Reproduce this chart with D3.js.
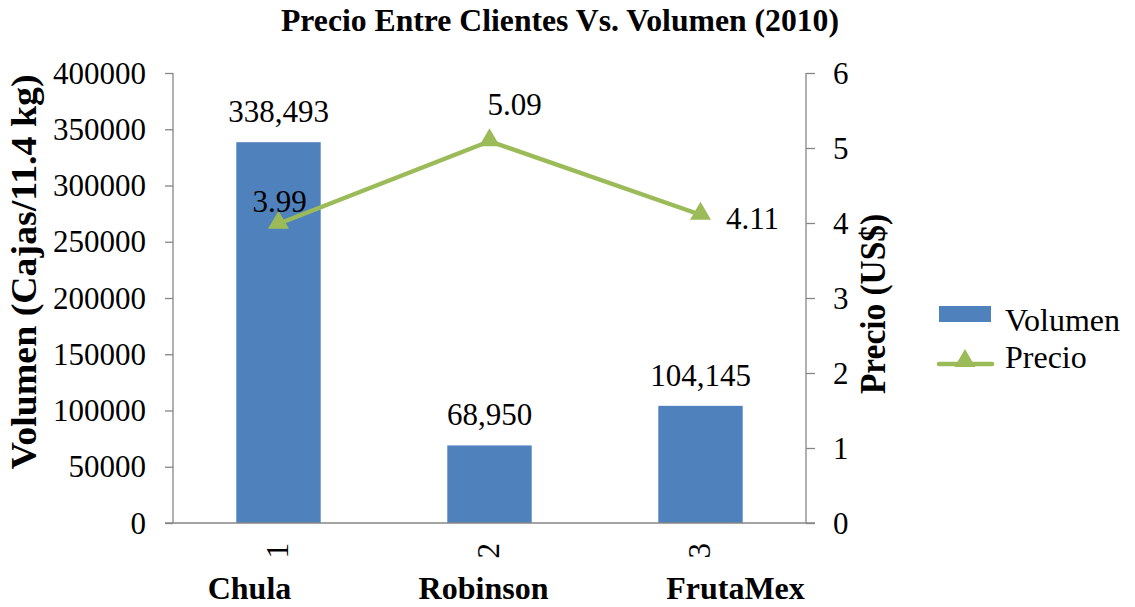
<!DOCTYPE html>
<html>
<head>
<meta charset="utf-8">
<script src="https://cdn.jsdelivr.net/npm/d3@7"></script>
<style>
  html, body { margin: 0; padding: 0; background: #fff; }
  svg { display: block; }
  svg text { font-family: "Liberation Serif", Tinos, "Times New Roman", serif; fill: #000; }
</style>
</head>
<body>
<div id="chart"></div>
<script>
const categories = ["1", "2", "3"];
const clientNames = ["Chula", "Robinson", "FrutaMex"];
const volumen = [338493, 68950, 104145];
const precio = [3.99, 5.09, 4.11];
const volumeTicks = [0, 50000, 100000, 150000, 200000, 250000, 300000, 350000, 400000];
const priceTicks = [0, 1, 2, 3, 4, 5, 6];
const seriesNames = ["Volumen", "Precio"];

const W = 1135, H = 607;
const margin = { left: 173, right: 1135 - 806, top: 73, bottom: 607 - 523 };
const barColor = "#4F81BD", lineColor = "#9BBB59", axisColor = "#868686";
const FS = 31;

const svg = d3.select("#chart").append("svg").attr("width", W).attr("height", H);

const x = d3.scaleBand().domain(categories).range([margin.left, W - margin.right]).paddingInner(0).paddingOuter(0);
const yL = d3.scaleLinear().domain([0, 400000]).range([H - margin.bottom, margin.top]);
const yR = d3.scaleLinear().domain([0, 6]).range([H - margin.bottom, margin.top]);
const barW = x.bandwidth() * 0.4;
const cx = d => x(d) + x.bandwidth() / 2;

// Title
svg.append("text").attr("x", 560).attr("y", 31).attr("text-anchor", "middle")
  .attr("font-size", 31).attr("font-weight", "bold")
  .attr("textLength", 558).attr("lengthAdjust", "spacingAndGlyphs")
  .text("Precio Entre Clientes Vs. Volumen (2010)");

// Bars
svg.selectAll("rect.bar").data(volumen).join("rect").attr("class", "bar")
  .attr("x", (d, i) => cx(categories[i]) - barW / 2)
  .attr("y", d => yL(d)).attr("width", barW).attr("height", d => yL(0) - yL(d))
  .attr("fill", barColor);

// Left axis
const leftAxis = svg.append("g").attr("transform", `translate(${margin.left},0)`)
  .call(d3.axisLeft(yL).tickValues(volumeTicks).tickFormat(d3.format("d")).tickSize(8).tickPadding(19));
leftAxis.attr("font-family", null);
leftAxis.selectAll("line").attr("stroke", axisColor).attr("stroke-width", 1.3);
leftAxis.select(".domain").remove();
leftAxis.selectAll("text").attr("font-size", FS).attr("dy", "0.33em");
svg.append("line").attr("x1", margin.left).attr("x2", margin.left).attr("y1", yL(400000)).attr("y2", yL(0)).attr("stroke", axisColor).attr("stroke-width", 1.3);

// Right axis
const rightAxis = svg.append("g").attr("transform", `translate(${W - margin.right},0)`)
  .call(d3.axisRight(yR).tickValues(priceTicks).tickFormat(d3.format("d")).tickSize(9).tickPadding(18));
rightAxis.attr("font-family", null);
rightAxis.selectAll("line").attr("stroke", axisColor).attr("stroke-width", 1.3);
rightAxis.select(".domain").remove();
rightAxis.selectAll("text").attr("font-size", FS).attr("dy", "0.33em");
svg.append("line").attr("x1", W - margin.right).attr("x2", W - margin.right).attr("y1", yR(6)).attr("y2", yR(0)).attr("stroke", axisColor).attr("stroke-width", 1.3);

// X axis line
svg.append("line").attr("x1", margin.left - 8).attr("x2", W - margin.right + 9)
  .attr("y1", yL(0)).attr("y2", yL(0)).attr("stroke", axisColor).attr("stroke-width", 1.3);

// Rotated category labels
svg.selectAll("text.cat").data(categories).join("text").attr("class", "cat")
  .attr("transform", d => `translate(${cx(d) + 9},${yL(0) + 20}) rotate(-90)`)
  .attr("text-anchor", "end").attr("font-size", FS).text(d => d);

// Client names
const nameOffsets = [-29, -6, 35];
svg.selectAll("text.client").data(clientNames).join("text").attr("class", "client")
  .attr("x", (d, i) => cx(categories[i]) + nameOffsets[i]).attr("y", 599)
  .attr("text-anchor", "middle").attr("font-size", 32).attr("font-weight", "bold").text(d => d);

// Axis titles
svg.append("text").attr("transform", `translate(36,272) rotate(-90)`)
  .attr("text-anchor", "middle").attr("font-size", 35).attr("font-weight", "bold")
  .attr("textLength", 395).attr("lengthAdjust", "spacingAndGlyphs")
  .text("Volumen (Cajas/11.4 kg)");
svg.append("text").attr("transform", `translate(885,304) rotate(-90)`)
  .attr("text-anchor", "middle").attr("font-size", 35).attr("font-weight", "bold")
  .attr("textLength", 180).attr("lengthAdjust", "spacingAndGlyphs")
  .text("Precio (US$)");

// Bar labels
svg.selectAll("text.vlabel").data(volumen).join("text").attr("class", "vlabel")
  .attr("x", (d, i) => cx(categories[i])).attr("y", d => yL(d) - 20)
  .attr("text-anchor", "middle").attr("font-size", FS).text(d => d3.format(",")(d));

// Line
const line = d3.line().x((d, i) => cx(categories[i])).y(d => yR(d));
svg.append("path").datum(precio).attr("d", line).attr("fill", "none")
  .attr("stroke", lineColor).attr("stroke-width", 4.5).attr("stroke-linejoin", "round");

const tri = d3.symbol().type(d3.symbolTriangle).size(190);
svg.selectAll("path.marker").data(precio).join("path").attr("class", "marker")
  .attr("transform", (d, i) => `translate(${cx(categories[i])},${yR(d) - 1})`)
  .attr("d", tri).attr("fill", lineColor);

// Price labels
const pOff = [[1, -12], [25, -26], [52, 14]];
svg.selectAll("text.plabel").data(precio).join("text").attr("class", "plabel")
  .attr("x", (d, i) => cx(categories[i]) + pOff[i][0]).attr("y", (d, i) => yR(d) + pOff[i][1])
  .attr("text-anchor", "middle").attr("font-size", FS).text(d => d3.format(".2f")(d));

// Legend
const lg = svg.append("g");
lg.append("rect").attr("x", 939).attr("y", 306).attr("width", 52).attr("height", 16).attr("fill", barColor);
lg.append("text").attr("x", 1005).attr("y", 331).attr("font-size", 32).text(seriesNames[0]);
lg.append("line").attr("x1", 939).attr("x2", 992).attr("y1", 364).attr("y2", 364)
  .attr("stroke", lineColor).attr("stroke-width", 4.5).attr("stroke-linecap", "round");
lg.append("path").attr("transform", "translate(965,361)").attr("d", tri).attr("fill", lineColor);
lg.append("text").attr("x", 1005).attr("y", 368).attr("font-size", 32).text(seriesNames[1]);
</script>
</body>
</html>
